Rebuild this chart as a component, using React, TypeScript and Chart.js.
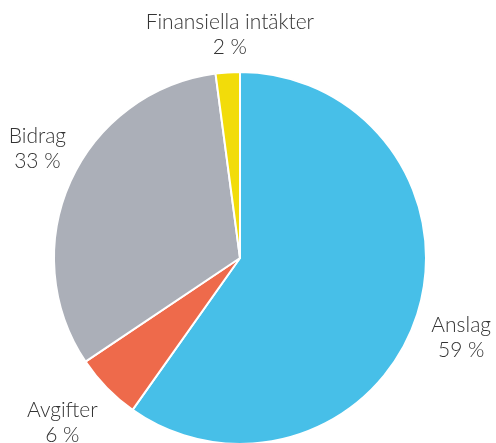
import React, { useEffect, useRef } from "react";
import { Chart, registerables } from "chart.js";

Chart.register(...registerables);

const categories = ["Anslag", "Avgifter", "Bidrag", "Finansiella intäkter"];
const values = [59.8, 5.8, 32.3, 2.1];
const percentLabels = ["59 %", "6 %", "33 %", "2 %"];
const colors = ["#47BFE8", "#EE6A4B", "#ABAFB8", "#F2DC0A"];

// small visual nudges of the outer labels (pixels)
const nudges = [
  [2, 10],
  [-13, 4],
  [7, -15],
  [5, 6],
];

const labelPlugin = {
  id: "outerLabels",
  afterDatasetsDraw(chart: any) {
    const ctx = chart.ctx;
    const meta = chart.getDatasetMeta(0);
    ctx.save();
    ctx.font = "300 21px Lato";
    ctx.fillStyle = "#333333";
    ctx.textAlign = "center";
    ctx.textBaseline = "middle";
    meta.data.forEach((arc: any, i: number) => {
      const mid = (arc.startAngle + arc.endAngle) / 2;
      const r = arc.outerRadius + 44;
      const x = arc.x + Math.cos(mid) * r + nudges[i][0];
      const y = arc.y + Math.sin(mid) * r + nudges[i][1];
      ctx.fillText(categories[i], x, y - 12);
      ctx.fillText(percentLabels[i], x, y + 13);
    });
    ctx.restore();
  },
};

export default function App() {
  const ref = useRef<HTMLCanvasElement>(null);
  useEffect(() => {
    document.body.style.margin = "0";
    const chart = new Chart(ref.current!, {
      type: "pie",
      data: {
        labels: categories,
        datasets: [
          {
            data: values,
            backgroundColor: colors,
            borderColor: "#ffffff",
            borderWidth: 2,
          },
        ],
      },
      options: {
        responsive: false,
        animation: false,
        layout: { padding: { left: 53, right: 69, top: 71, bottom: 15 } },
        plugins: { legend: { display: false }, tooltip: { enabled: false } },
      },
      plugins: [labelPlugin],
    });
    return () => chart.destroy();
  }, []);
  return (
    <div style={{ width: 496, height: 443, overflow: "hidden", background: "#fff" }}>
      <canvas ref={ref} width={496} height={460} style={{ width: 496, height: 460 }} />
    </div>
  );
}
